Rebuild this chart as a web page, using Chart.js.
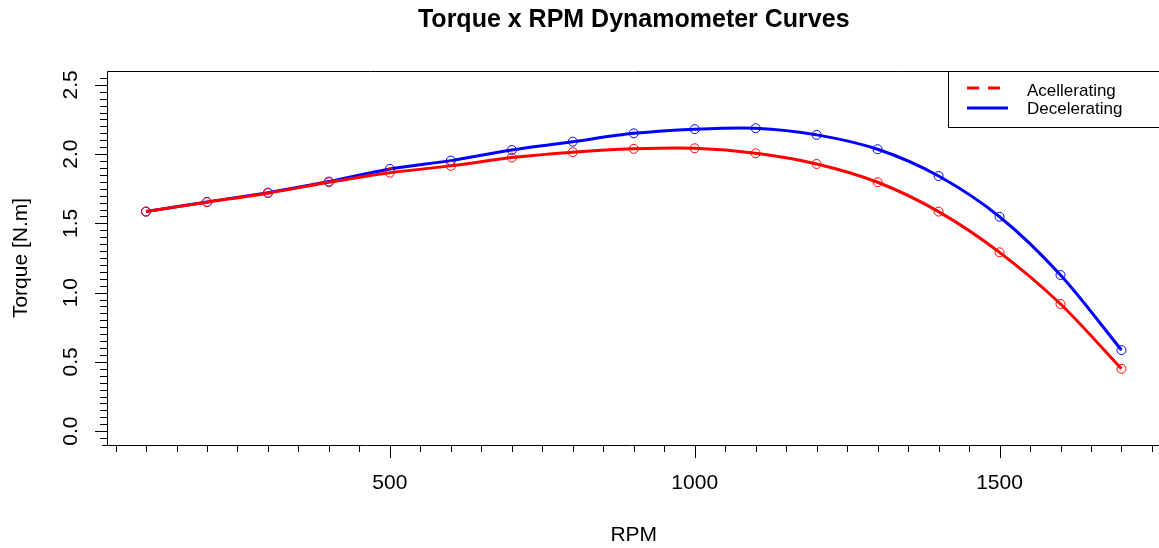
<!DOCTYPE html>
<html>
<head>
<meta charset="utf-8">
<script src="https://cdn.jsdelivr.net/npm/chart.js"></script>
<style>
  html, body { margin: 0; padding: 0; background: #fff; overflow: hidden; }
  canvas { display: block; }
</style>
</head>
<body>
<canvas id="c" width="1166" height="548" style="width:1166px;height:548px"></canvas>
<script>
// ---- data ----
const rpm = [100, 200, 300, 400, 500, 600, 700, 800, 900, 1000, 1100, 1200, 1300, 1400, 1500, 1600, 1700];
const accelerating = [1.585, 1.653, 1.718, 1.797, 1.866, 1.915, 1.975, 2.014, 2.038, 2.042, 2.006, 1.929, 1.797, 1.585, 1.291, 0.918, 0.45];
const decelerating = [1.585, 1.655, 1.722, 1.802, 1.893, 1.953, 2.030, 2.090, 2.150, 2.180, 2.187, 2.139, 2.035, 1.842, 1.548, 1.127, 0.585];
const seriesNames = ["Acellerating", "Decelerating"];
const xMajorTicks = [500, 1000, 1500];
const xMinorTicks = [50,100,150,200,250,300,350,400,450,500,550,600,650,700,750,800,850,900,950,1000,1050,1100,1150,1200,1250,1300,1350,1400,1450,1500,1550,1600,1650,1700,1750];
const yMajorTicks = [0.0, 0.5, 1.0, 1.5, 2.0, 2.5];
const yMinorStep = 0.05;
const yMinorFrom = -0.05, yMinorTo = 2.55;
const titleText = "Torque x RPM Dynamometer Curves";
const xTitle = "RPM";
const yTitle = "Torque [N.m]";

const FONT = '"Liberation Sans", Arial, sans-serif';

const axesPlugin = {
  id: 'rAxes',
  afterDraw(chart) {
    const ctx = chart.ctx;
    const a = chart.chartArea;
    const xs = chart.scales.x, ys = chart.scales.y;
    ctx.save();
    ctx.strokeStyle = '#000';
    ctx.fillStyle = '#000';
    ctx.lineWidth = 1;
    // box
    ctx.beginPath();
    ctx.moveTo(a.left + 0.5, a.bottom + 0.5);
    ctx.lineTo(a.left + 0.5, a.top + 0.5);
    ctx.lineTo(a.right - 0.5, a.top + 0.5);
    ctx.lineTo(a.right - 0.5, a.bottom + 0.5);
    ctx.stroke();
    // x axis line
    ctx.beginPath();
    ctx.moveTo(a.left - 5, a.bottom + 0.5);
    ctx.lineTo(a.right, a.bottom + 0.5);
    ctx.stroke();
    // x ticks
    xMinorTicks.forEach(v => {
      const px = Math.round(xs.getPixelForValue(v)) + 0.5;
      const major = xMajorTicks.includes(v);
      ctx.beginPath();
      ctx.moveTo(px, a.bottom);
      ctx.lineTo(px, a.bottom + (major ? 13 : 7));
      ctx.stroke();
    });
    // y ticks
    const nMinor = Math.round((yMinorTo - yMinorFrom) / yMinorStep);
    for (let i = 0; i <= nMinor; i++) {
      const v = yMinorFrom + i * yMinorStep;
      const py = Math.round(ys.getPixelForValue(v)) + 0.5;
      const major = yMajorTicks.some(m => Math.abs(m - v) < 1e-6);
      ctx.beginPath();
      ctx.moveTo(a.left, py);
      ctx.lineTo(a.left - (major ? 12 : 7), py);
      ctx.stroke();
    }
    // x tick labels
    ctx.font = '21px ' + FONT;
    ctx.textAlign = 'center';
    ctx.textBaseline = 'middle';
    xMajorTicks.forEach(v => {
      ctx.fillText(String(v), xs.getPixelForValue(v), 483);
    });
    // y tick labels (rotated)
    yMajorTicks.forEach(v => {
      ctx.save();
      ctx.translate(71, ys.getPixelForValue(v));
      ctx.rotate(-Math.PI / 2);
      ctx.fillText(v.toFixed(1), 0, 0);
      ctx.restore();
    });
    // axis titles
    ctx.fillText(xTitle, (a.left + a.right) / 2, 535);
    ctx.save();
    ctx.translate(21, (a.top + a.bottom) / 2);
    ctx.rotate(-Math.PI / 2);
    ctx.fillText(yTitle, 0, 0);
    ctx.restore();
    // main title (centered over the plot region)
    ctx.font = 'bold 25px ' + FONT;
    ctx.fillText(titleText, (a.left + a.right) / 2, 20);
    // legend
    const lx = 948, ly = a.top;
    ctx.fillStyle = '#fff';
    ctx.fillRect(lx, ly, a.right - lx, 56);
    ctx.strokeStyle = '#000';
    ctx.lineWidth = 1;
    ctx.strokeRect(lx + 0.5, ly + 0.5, a.right - lx + 5, 56);
    ctx.lineWidth = 3;
    ctx.strokeStyle = '#ff0000';
    ctx.setLineDash([12, 9]);
    ctx.beginPath();
    ctx.moveTo(967, 88); ctx.lineTo(1003, 88);
    ctx.stroke();
    ctx.setLineDash([]);
    ctx.strokeStyle = '#0000ff';
    ctx.beginPath();
    ctx.moveTo(967, 108); ctx.lineTo(1008, 108);
    ctx.stroke();
    ctx.fillStyle = '#000';
    ctx.font = '17px ' + FONT;
    ctx.textAlign = 'left';
    ctx.fillText(seriesNames[0], 1027, 91);
    ctx.fillText(seriesNames[1], 1027, 109);
    ctx.restore();
  }
};

new Chart(document.getElementById('c'), {
  type: 'line',
  data: {
    datasets: [
      {
        label: seriesNames[0],
        data: rpm.map((x, i) => ({ x: x, y: accelerating[i] })),
        borderColor: '#ff0000',
        backgroundColor: 'rgba(0,0,0,0)',
        borderWidth: 3,
        tension: 0.3,
        pointRadius: 4.5,
        pointBorderWidth: 1,
        pointBorderColor: '#ff0000',
        pointBackgroundColor: 'rgba(0,0,0,0)',
        fill: false
      },
      {
        label: seriesNames[1],
        data: rpm.map((x, i) => ({ x: x, y: decelerating[i] })),
        borderColor: '#0000ff',
        backgroundColor: 'rgba(0,0,0,0)',
        borderWidth: 3,
        tension: 0.3,
        pointRadius: 4.5,
        pointBorderWidth: 1,
        pointBorderColor: '#0000ff',
        pointBackgroundColor: 'rgba(0,0,0,0)',
        fill: false
      }
    ]
  },
  options: {
    responsive: false,
    animation: false,
    devicePixelRatio: 1,
    layout: { padding: { left: 107, top: 71, right: 3, bottom: 103 } },
    scales: {
      x: { type: 'linear', min: 36, max: 1764, display: false },
      y: { type: 'linear', min: -0.1, max: 2.6, display: false }
    },
    plugins: {
      legend: { display: false },
      tooltip: { enabled: false },
      title: { display: false }
    }
  },
  plugins: [axesPlugin]
});
</script>
</body>
</html>
